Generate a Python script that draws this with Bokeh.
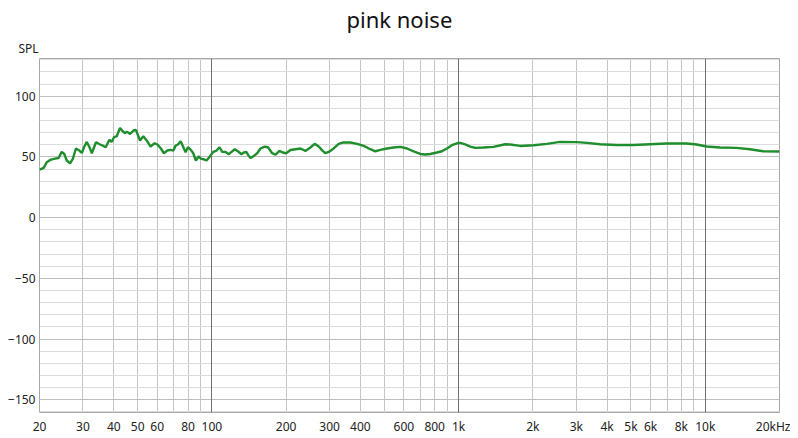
from bokeh.plotting import figure
from bokeh.models import FixedTicker, Grid, Range1d, Title
from bokeh.embed import file_html
from bokeh.resources import INLINE

# ---- data ----
freq = [20.0, 20.8, 21.4, 22.1, 23.1, 23.9, 24.6, 25.2, 25.8, 26.6, 27.3, 28.1, 29.0, 29.7,
        30.3, 31.1, 31.9, 32.6, 33.3, 33.9, 35.2, 36.3, 37.1, 37.8, 38.4, 39.2, 40.1, 41.1,
        42.4, 43.5, 44.4, 45.4, 46.6, 48.1, 49.2, 49.9, 51.1, 52.7, 54.4, 56.4, 58.6, 60.1,
        62.0, 63.9, 66.0, 68.0, 69.8, 71.3, 72.8, 74.7, 76.6, 78.2, 79.9, 82.0, 84.0, 86.1,
        88.3, 90.5, 92.8, 95.1, 98.1, 101.3, 104.4, 107.4, 110.1, 113.6, 117.1, 120.1, 123.8,
        127.8, 131.8, 134.7, 137.8, 140.4, 143.4, 147.9, 152.6, 157.4, 163.8, 169.1, 175.5,
        181.0, 187.9, 193.7, 200.0, 208.2, 218.1, 228.5, 239.4, 250.8, 261.0, 271.0, 281.3,
        288.5, 297.6, 311.6, 326.6, 339.0, 364.2, 387.8, 412.4, 438.8, 459.8, 481.8, 512.8,
        545.4, 580.6, 618.0, 657.2, 699.6, 732.8, 767.8, 817.4, 856.4, 897.2, 940.0, 984.8,
        1015.6, 1064, 1115, 1168, 1262, 1385, 1545, 1619, 1777, 2011, 2280, 2580, 3014, 3308,
        3746, 4378, 5110, 5970, 6976, 8406, 9226, 10126, 11462, 13396, 15166, 17166, 20000]
spl = [39.5, 40.9, 45.6, 47.5, 48.6, 49.1, 54.1, 52.4, 47.0, 44.7, 48.3, 56.9, 55.2, 53.2,
       57.9, 62.3, 57.9, 53.0, 57.9, 62.0, 60.2, 59.0, 57.9, 61.2, 64.0, 62.3, 66.2, 66.8,
       73.8, 71.1, 69.7, 70.6, 68.9, 71.7, 72.2, 68.9, 63.5, 67.0, 63.5, 58.5, 61.2, 60.2,
       57.1, 53.0, 55.2, 55.7, 55.2, 59.3, 60.2, 62.9, 57.9, 53.8, 57.9, 56.0, 53.0, 47.0,
       50.3, 48.3, 48.0, 47.0, 50.3, 54.1, 55.2, 57.9, 54.1, 54.0, 52.2, 54.1, 56.3,
       54.4, 52.2, 53.6, 54.1, 51.4, 49.1, 50.8, 53.0, 56.9, 58.5, 57.7, 53.0,
       51.9, 54.9, 53.6, 53.0, 55.7, 56.3, 56.9, 54.9, 57.7, 60.7, 58.5, 54.9,
       53.0, 54.1, 56.9, 60.7, 61.8, 61.8, 60.7, 59.0, 56.3, 54.6, 55.7, 56.9,
       57.7, 58.2, 56.9, 54.6, 52.4, 51.9, 52.4, 53.6, 54.6, 56.9, 59.6, 61.2,
       61.5, 60.3, 58.5, 57.4, 57.7, 58.2, 60.4, 60.2, 59.0, 59.6, 60.7, 62.3, 62.1, 61.5,
       60.4, 59.8, 59.8, 60.4, 61.0, 61.0, 60.2, 58.5, 57.7, 57.4, 56.3, 54.6, 54.4]

x_ticks = [20, 30, 40, 50, 60, 70, 80, 90, 100, 200, 300, 400, 500, 600, 700, 800, 900,
           1000, 2000, 3000, 4000, 5000, 6000, 7000, 8000, 9000, 10000, 20000]
x_labels = ["20", "30", "40", "50", "60", "", "80", "", "100", "200", "300", "400", "", "600",
            "", "800", "", "1k", "2k", "3k", "4k", "5k", "6k", "", "8k", "", "10k", "20kHz"]
decades = [100, 1000, 10000]
y_ticks = [-150, -100, -50, 0, 50, 100]
y_minor = [-160, -140, -130, -120, -110, -90, -80, -70, -60, -40, -30, -20, -10,
           10, 20, 30, 40, 60, 70, 80, 90, 110, 120, 130]

FONT = "Noto Sans"

p = figure(width=790, height=437, x_axis_type="log", output_backend="svg",
           toolbar_location=None, title="pink noise",
           x_range=Range1d(20, 20000), y_range=Range1d(-160.5, 131))
p.min_border_left = 39
p.min_border_right = 11
p.min_border_top = 0
p.min_border_bottom = 0

p.title.align = "left"
p.title.offset = 307
p.title.text_font = FONT
p.title.text_font_size = "22px"
p.title.text_font_style = "normal"
p.title.text_color = "#111111"
p.title.standoff = 3

spl_title = Title(text="SPL", align="left", offset=-21, standoff=4,
                  text_font=FONT, text_font_size="12px", text_font_style="normal",
                  text_color="#222222")
p.add_layout(spl_title, "above")

p.outline_line_color = "#a8a8a8"
p.background_fill_color = "white"

for ax in (p.xaxis[0], p.yaxis[0]):
    ax.axis_line_color = None
    ax.major_tick_line_color = None
    ax.minor_tick_line_color = None
    ax.major_tick_out = 0
    ax.major_tick_in = 0
    ax.minor_tick_out = 0
    ax.minor_tick_in = 0
    ax.major_label_text_font = FONT
    ax.major_label_text_font_size = "12px"
    ax.major_label_text_color = "#222222"

p.xaxis[0].ticker = FixedTicker(ticks=x_ticks)
p.xaxis[0].major_label_overrides = {t: lab for t, lab in zip(x_ticks, x_labels)}
p.xaxis[0].major_label_standoff = 5
p.yaxis[0].ticker = FixedTicker(ticks=y_ticks, minor_ticks=y_minor)
p.yaxis[0].major_label_standoff = 4

p.xgrid.grid_line_color = "#c4c4c4"
p.ygrid.grid_line_color = "#bdbdbd"
p.ygrid.minor_grid_line_color = "#dcdcdc"

p.add_layout(Grid(dimension=0, ticker=FixedTicker(ticks=decades),
                  grid_line_color="#707070"))

p.line(freq, spl, line_color="#1f8e2c", line_width=2.4)

open("out.html", "w").write(file_html(p, INLINE))
